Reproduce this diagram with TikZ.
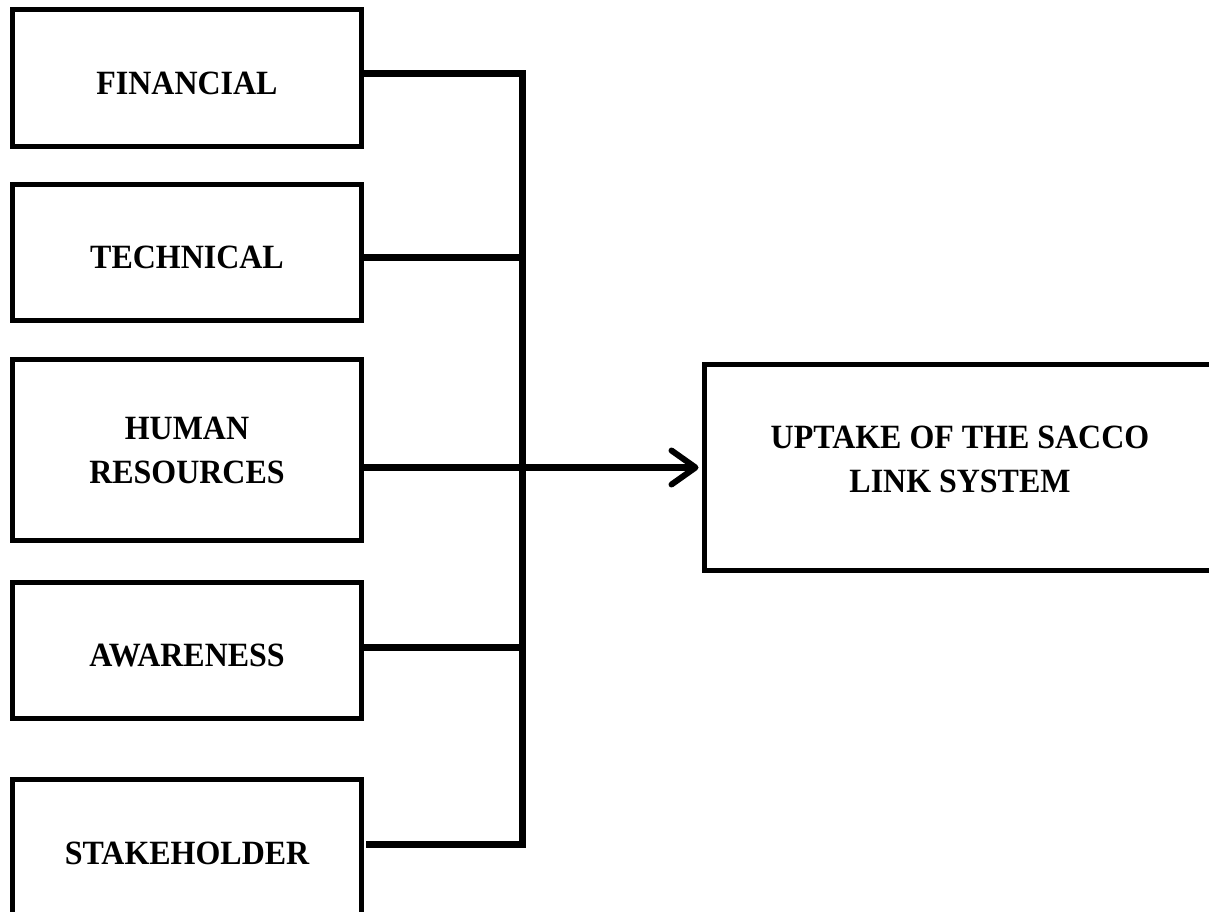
\documentclass[tikz,border=0pt]{standalone}
\usepackage{fontspec}
\setmainfont{Liberation Serif}[FakeStretch=0.94]
\usetikzlibrary{arrows.meta}
\begin{document}
\begin{tikzpicture}[x=1pt,y=-1pt,
  boxstyle/.style={draw=black,line width=5pt,inner sep=0pt,align=center,
    font=\bfseries\fontsize{34}{44}\selectfont},
  inbox/.style={boxstyle,minimum width=349pt},
  conn/.style={draw=black,line width=7pt},
  tipstyle/.style={-{Straight Barb[length=24pt,width=34pt,line width=6pt,round]}}
]
\useasboundingbox (0,0) rectangle (1209,911);
\fill[white] (0,0) rectangle (1209,911);
\clip (0,0) rectangle (1209,911);

\node[inbox,minimum height=137pt,text height=32.5pt] (fin) at (187,78) {FINANCIAL};
\node[inbox,minimum height=136pt,text height=32.5pt] (tec) at (187,252.5) {TECHNICAL};
\node[inbox,minimum height=181pt] (hum) at (187,450) {HUMAN\\RESOURCES};
\node[inbox,minimum height=136pt,text height=32.5pt] (awa) at (187,650.5) {AWARENESS};
\node[inbox,minimum height=137pt,text height=32.5pt] (stk) at (187,848) {STAKEHOLDER};

\node[boxstyle,minimum width=512pt,minimum height=206pt,text depth=17pt] (out) at (960,467.5) {UPTAKE OF THE SACCO\\LINK SYSTEM};

\coordinate (bt) at (522,73);
\coordinate (bb) at (522,844);
\coordinate (jt) at (522,257);
\coordinate (ja) at (522,647);

\draw[conn,shorten >=2pt] (fin.east |- bt) -- (bt) -- (bb) -- (stk.east |- bb);
\draw[conn] (tec.east |- jt) -- (jt);
\draw[conn] (awa.east |- ja) -- (ja);
\draw[conn,tipstyle,shorten >=3pt] (hum.east |- out.west) -- (out.west);
\end{tikzpicture}
\end{document}
